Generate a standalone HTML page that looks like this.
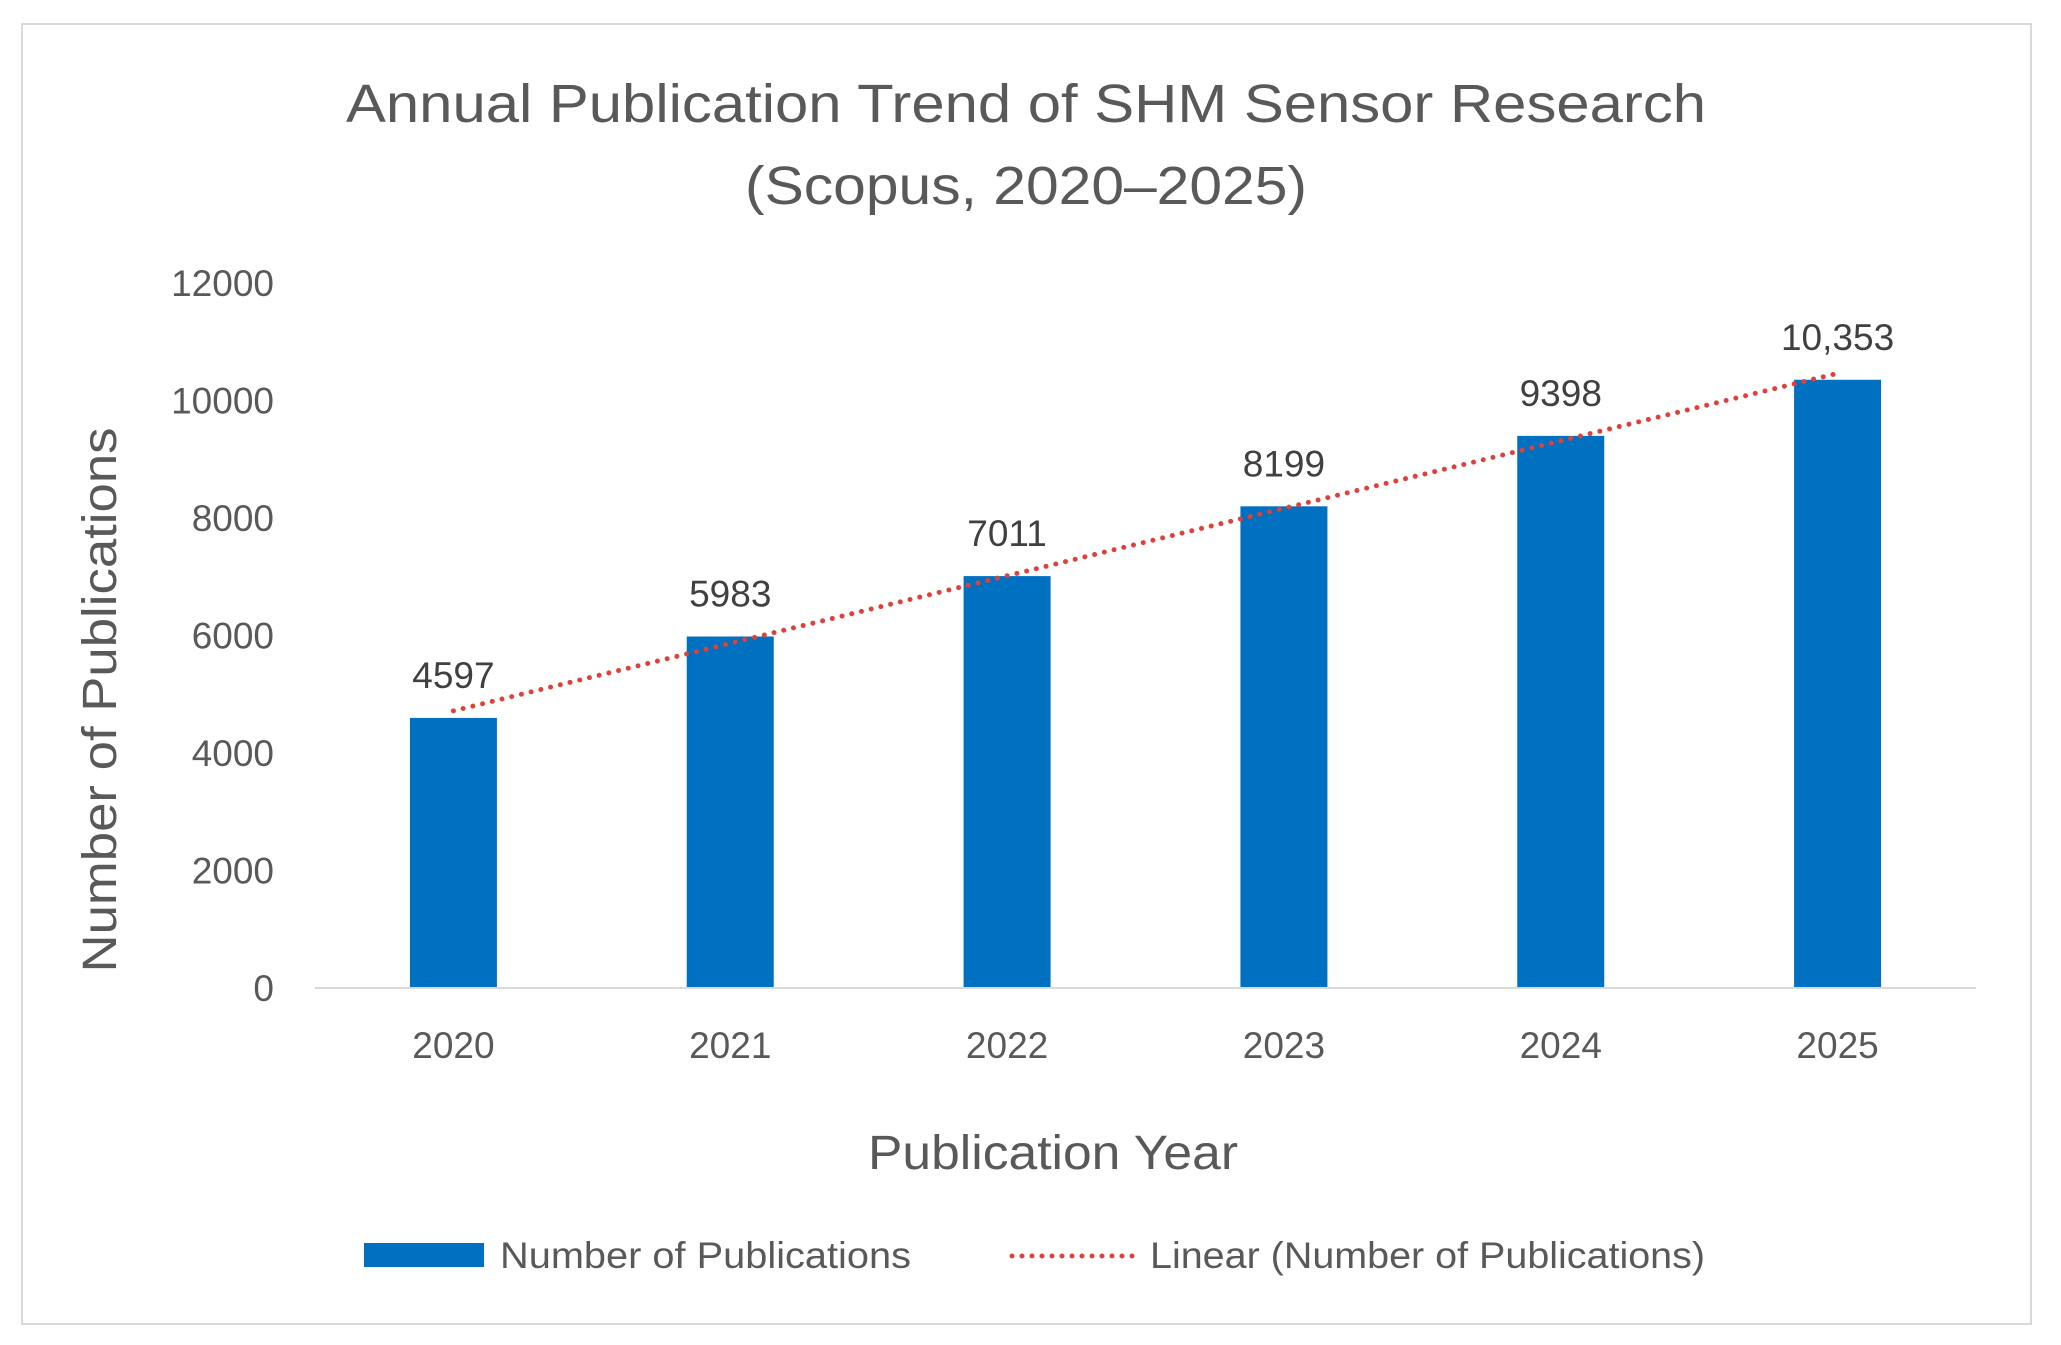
<!DOCTYPE html>
<html><head><meta charset="utf-8"><style>
html,body{margin:0;padding:0;background:#fff;}
svg{display:block;font-family:"Liberation Sans",sans-serif;}
</style></head><body>
<svg id="chart" width="2061" height="1345" viewBox="0 0 2061 1345">
<rect x="22" y="24" width="2009" height="1300" fill="#fff" stroke="#d9d9d9" stroke-width="2"/>
<text x="1026" y="122" text-anchor="middle" font-size="54" fill="#595959" textLength="1360" lengthAdjust="spacingAndGlyphs">Annual Publication Trend of SHM Sensor Research</text>
<text x="1026" y="204" text-anchor="middle" font-size="54" fill="#595959" textLength="562" lengthAdjust="spacingAndGlyphs">(Scopus, 2020–2025)</text>
<g id="yticks"></g>
<g id="bars"></g>
<g id="labels"></g>
<g id="xlabels"></g>
<line x1="315" y1="988" x2="1976" y2="988" stroke="#d9d9d9" stroke-width="2"/>
<g id="trend"></g>
<text transform="translate(116,700) rotate(-90)" text-anchor="middle" font-size="48" fill="#595959" textLength="545" lengthAdjust="spacingAndGlyphs">Number of Publications</text>
<text x="1053" y="1169" text-anchor="middle" font-size="48" fill="#595959" textLength="370" lengthAdjust="spacingAndGlyphs">Publication Year</text>
<g>
<rect x="364" y="1243" width="120" height="24" fill="#0070C0"/>
<text x="500" y="1268" font-size="37" fill="#595959" textLength="411" lengthAdjust="spacingAndGlyphs">Number of Publications</text>
<line x1="1012" y1="1256" x2="1133" y2="1256" stroke="#E0403A" stroke-width="5" stroke-linecap="round" stroke-dasharray="0 10"/>
<text x="1150" y="1268" font-size="37" fill="#595959" textLength="555" lengthAdjust="spacingAndGlyphs">Linear (Number of Publications)</text>
</g>
</svg>
<script>
const categories = ["2020","2021","2022","2023","2024","2025"];
const values = [4597,5983,7011,8199,9398,10353];
const valueLabels = ["4597","5983","7011","8199","9398","10,353"];
const yTicks = [0,2000,4000,6000,8000,10000,12000];

const NS="http://www.w3.org/2000/svg";
const plotL=315, plotR=1976, plotB=988, plotT=283, yMax=12000;
const band=(plotR-plotL)/categories.length, barW=87;
function yPos(v){return plotB-(v/yMax)*(plotB-plotT);}
function xc(i){return plotL+band*(i+0.5);}
function mk(tag,attrs,parent,txt){const e=document.createElementNS(NS,tag);for(const k in attrs)e.setAttribute(k,attrs[k]);if(txt!==undefined)e.textContent=txt;parent.appendChild(e);return e;}

const yg=document.getElementById('yticks');
yTicks.forEach(t=>{
  const e=mk('text',{x:274,y:yPos(t)+13,'text-anchor':'end','font-size':37,fill:'#595959'},yg,String(t));
  
  
});
const bg=document.getElementById('bars'), lg=document.getElementById('labels'), xg=document.getElementById('xlabels');
values.forEach((v,i)=>{
  const r=mk('rect',{x:xc(i)-barW/2,y:yPos(v),width:barW,height:plotB-yPos(v),fill:'#0070C0'},bg);
  
  
  const l=mk('text',{x:xc(i),y:yPos(v)-30,'text-anchor':'middle','font-size':37,fill:'#404040'},lg,valueLabels[i]);
  
  
  const xl=mk('text',{x:xc(i),y:1058,'text-anchor':'middle','font-size':37,fill:'#595959'},xg,categories[i]);
  
  
});
const n=values.length, mx=(n-1)/2, my=values.reduce((a,b)=>a+b,0)/n;
let sxy=0,sxx=0; values.forEach((v,i)=>{sxy+=(i-mx)*(v-my);sxx+=(i-mx)*(i-mx);});
const slope=sxy/sxx, icpt=my-slope*mx;
const tl=mk('line',{x1:xc(0),y1:yPos(icpt),x2:xc(n-1),y2:yPos(icpt+slope*(n-1)),stroke:'#E0403A','stroke-width':5,'stroke-linecap':'round','stroke-dasharray':'0 10'},document.getElementById('trend'));


</script>
</body></html>
